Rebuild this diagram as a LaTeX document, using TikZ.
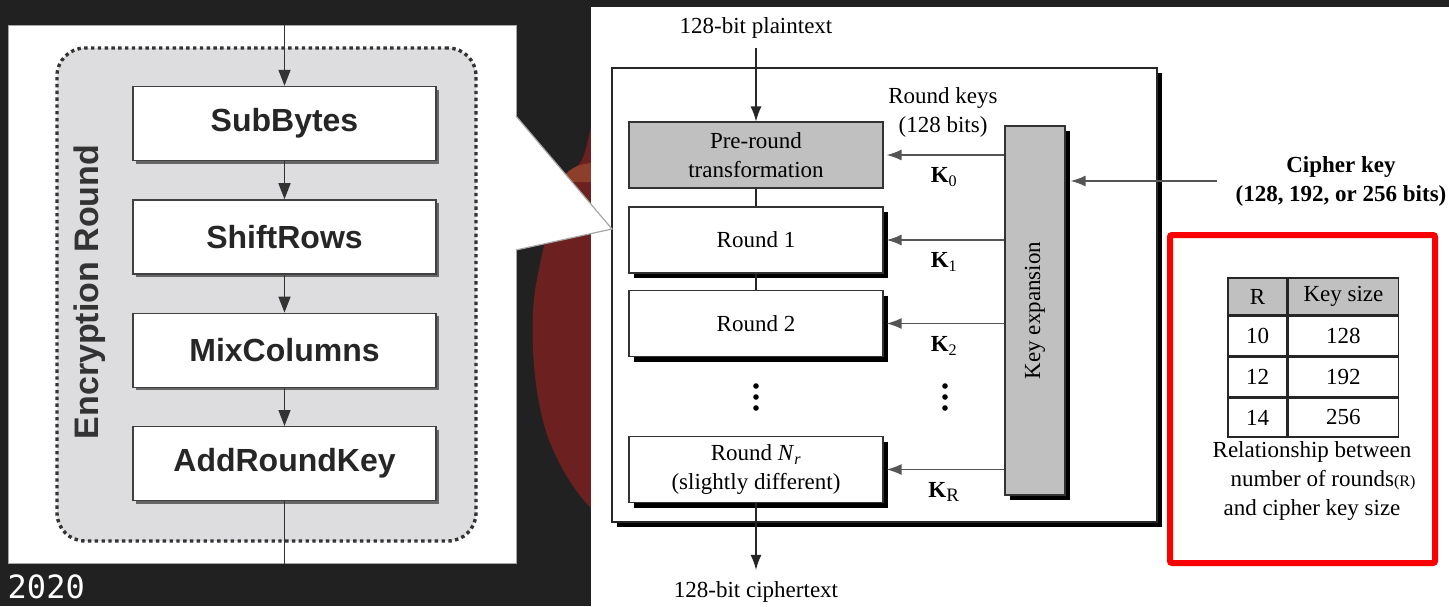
\documentclass[tikz,border=0pt]{standalone}
\usepackage{fontspec}
\setmainfont{Liberation Serif}
\newfontfamily\panelsans{Liberation Sans}
\newfontfamily\yearmono{DejaVu Sans Mono}
\usepackage{tikz}
\usetikzlibrary{arrows.meta, positioning, shadows}
\usepackage{xcolor}
\definecolor{backdrop}{RGB}{33, 33, 33}
\definecolor{blobred}{RGB}{108, 33, 32}
\definecolor{blobtan}{RGB}{140, 64, 44}
\definecolor{roundgray}{RGB}{221, 221, 223}
\definecolor{keygray}{RGB}{192, 192, 192}
\definecolor{linegray}{RGB}{85, 85, 85}
\definecolor{alertred}{RGB}{250, 2, 2}

\begin{document}
\begin{tikzpicture}[x=1pt, y=-1pt, thick,
    stepbox/.style={draw=black!75, line width=1.4pt, fill=white, minimum width=303pt, minimum height=74pt, font=\panelsans\bfseries\fontsize{32}{36}\selectfont, text=black!85, drop shadow={shadow xshift=3pt, shadow yshift=-3pt, fill=black!60, opacity=1}},
    roundbox/.style={draw=black!80, line width=1.2pt, fill=white, minimum width=254pt, minimum height=66pt, inner sep=2pt, align=center, font=\fontsize{23}{29}\selectfont},
    hardshadow/.style={drop shadow={shadow xshift=5pt, shadow yshift=-5pt, fill=black, opacity=1}},
    flowarrow/.style={draw=black!85, line width=1.2pt, -{Latex[length=15pt, width=11pt]}},
    steparrow/.style={draw=black!80, line width=1.5pt, -{Triangle[length=16pt, width=12pt]}},
    keyarrow/.style={draw=linegray, line width=1.6pt, -{Latex[length=15pt, width=11pt]}, shorten >=3pt},
    klabel/.style={below=12pt, inner sep=0pt, font=\fontsize{23}{29}\selectfont},
    cell/.style={draw=black!85, line width=1.4pt, minimum height=39.3pt, inner sep=0pt, font=\fontsize{23}{29}\selectfont}
]
    % backdrop and the red shape between the panels
    \fill[backdrop] (0,0) rectangle (1449,606);
    \useasboundingbox (0,0) rectangle (1449,606);
    \fill[blobred] (591,128) .. controls (586,145) and (586,160) .. (575,168) .. controls (558,182) and (544,240) .. (535,290) .. controls (529,335) and (534,400) .. (549,440) .. controls (563,475) and (579,496) .. (591,508) -- cycle;
    \fill[blobtan] (591,163) .. controls (576,164) and (566,171) .. (560,182) -- (591,182) -- cycle;

    % left panel: one encryption round
    \node[fill=white, draw=gray!70, line width=1pt, minimum width=508pt, minimum height=538pt] (leftpanel) at (262,294) {};
    \node[draw=black!80, line width=3.4pt, dash pattern=on 3.4pt off 3.4pt, fill=roundgray, rounded corners=28pt, minimum width=419pt, minimum height=493pt] (encround) at (266.5,294.5) {};
    \node[rotate=90, font=\panelsans\bfseries\fontsize{34}{36}\selectfont, text=black!80] (enc) at (90,292) {Encryption Round};

    \node[stepbox] (sub) at (284.5,123.5) {SubBytes};
    \node[stepbox, below=38pt of sub] (shift) {ShiftRows};
    \node[stepbox, below=38pt of shift] (mix) {MixColumns};
    \node[stepbox, below=38pt of mix] (add) {AddRoundKey};
    \coordinate (ltop) at (leftpanel.north -| sub);
    \coordinate (lbot) at (leftpanel.south -| sub);

    \draw[steparrow] (ltop) -- (sub);
    \draw[steparrow] (sub) -- (shift);
    \draw[steparrow] (shift) -- (mix);
    \draw[steparrow] (mix) -- (add);
    \draw[draw=black!80, line width=1.5pt] (add) -- (lbot);

    \node[text=white, anchor=west, font=\yearmono\fontsize{32}{32}\selectfont] (year) at (4,587) {2020};

    % right panel: AES structure
    \fill[white] (591,7) rectangle (1449,606);
    \node[draw=black!85, line width=1.6pt, fill=white, minimum width=545pt, minimum height=454pt, drop shadow={shadow xshift=5pt, shadow yshift=-5pt, fill=black, opacity=1}] (frame) at (884.5,295) {};

    \node[font=\fontsize{23}{29}\selectfont] (plain) at (756,28) {128-bit plaintext};
    \node[roundbox, fill=keygray] (pre) at (756,155) {Pre-round\\transformation};
    \node[roundbox, hardshadow] (r1) at (756,240) {Round 1};
    \node[roundbox, hardshadow] (r2) at (756,323.5) {Round 2};
    \node[roundbox, hardshadow] (rN) at (756,469.5) {Round \textit{N}\textsubscript{\textit{r}}\\(slightly different)};
    \node[font=\fontsize{23}{29}\selectfont] (cipher) at (756,592) {128-bit ciphertext};

    \fill (756,386) circle (2.8pt);
    \fill (756,397) circle (2.8pt);
    \fill (756,408) circle (2.8pt);

    \draw[flowarrow, shorten <=6pt] (plain) -- (pre);
    \draw[draw=black!85, line width=1.2pt] (pre) -- (r1);
    \draw[draw=black!85, line width=1.2pt] (r1) -- (r2);
    \draw[flowarrow, shorten >=8pt] (rN) -- (cipher);

    % key schedule
    \node[draw=black!80, line width=1.2pt, fill=keygray, minimum width=60pt, minimum height=369pt, hardshadow] (kexp) at (1035,310.5) {};
    \node[rotate=90, font=\fontsize{23}{29}\selectfont] (kexptext) at (kexp) {Key expansion};
    \node[align=center, font=\fontsize{23}{29}\selectfont] (rkeys) at (943,112) {Round keys\\(128 bits)};

    \draw[keyarrow] (kexp.west |- pre) -- node[klabel] {\textbf{K}\textsubscript{0}} (pre.east);
    \draw[keyarrow] (kexp.west |- r1) -- node[klabel] {\textbf{K}\textsubscript{1}} (r1.east);
    \draw[keyarrow] (kexp.west |- r2) -- node[klabel] {\textbf{K}\textsubscript{2}} (r2.east);
    \draw[keyarrow] (kexp.west |- rN) -- node[klabel] {\textbf{K}\textsubscript{\fontsize{19}{19}\selectfont R}} (rN.east);

    \fill (945,386) circle (2.8pt);
    \fill (945,397) circle (2.8pt);
    \fill (945,408) circle (2.8pt);

    \coordinate (ckin) at (1217,181);
    \node[align=center, font=\bfseries\fontsize{23}{29}\selectfont] (ckey) at (1341,181) {Cipher key\\(128, 192, or 256 bits)};
    \draw[keyarrow, shorten >=5pt] (ckin) -- (kexp.east |- ckin);

    % rounds versus key size
    \node[draw=alertred, line width=6pt, rounded corners=2pt, minimum width=265pt, minimum height=328pt] (redframe) at (1302.5,399) {};
    \node[cell, fill=keygray, minimum width=59pt, minimum height=37pt] (hR) at (1257.5,296.5) {R};
    \node[cell, fill=keygray, minimum width=110pt, minimum height=37pt, right=0pt of hR] (hK) {Key size};
    \node[cell, minimum width=59pt, below=0pt of hR] (r10) {10};
    \node[cell, minimum width=110pt, right=0pt of r10] (k128) {128};
    \node[cell, minimum width=59pt, below=0pt of r10] (r12) {12};
    \node[cell, minimum width=110pt, right=0pt of r12] (k192) {192};
    \node[cell, minimum width=59pt, below=0pt of r12] (r14) {14};
    \node[cell, minimum width=110pt, right=0pt of r14] (k256) {256};
    \node[align=center, font=\fontsize{23}{29}\selectfont] (caption) at (1312,481) {Relationship between\\\hspace*{22pt}number of rounds{\fontsize{16}{16}\selectfont(R)}\\and cipher key size};

    % callout from the round to the structure
    \fill[white] (516,116) -- (612,229) -- (516,250) -- cycle;
    \draw[gray!70, line width=1.2pt] (516,116) -- (612,229) -- (516,250);
\end{tikzpicture}
\end{document}
